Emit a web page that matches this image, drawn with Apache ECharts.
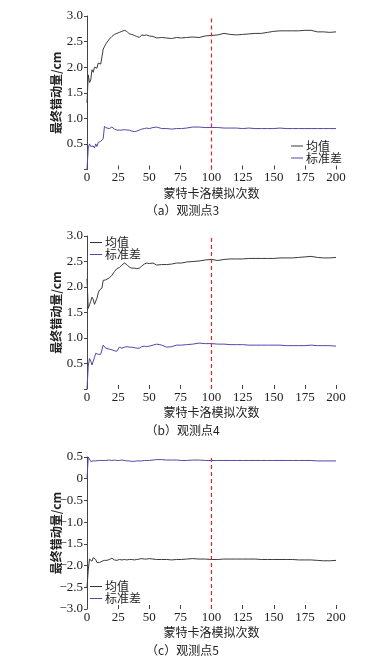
<!DOCTYPE html>
<html><head><meta charset="utf-8">
<script src="https://cdn.jsdelivr.net/npm/echarts@6/dist/echarts.min.js"></script>
<style>html,body{margin:0;padding:0;background:#fff;}#c{width:365px;height:667px;}</style>
</head><body><div id="c"></div>
<script>
// iteration numbers at which values were read
var iterations = [0,1,2,3,4,5,6,7,8,9,10,11,12,13,14,15,16,18,20,22,24,26,28,30,32,34,36,38,40,42,44,46,48,50,53,56,60,64,68,72,76,80,85,90,95,100,105,110,115,120,125,130,135,140,145,150,155,160,165,170,175,180,185,190,195,200];
var xTicks = [0,25,50,75,100,125,150,175,200];
var seriesNames = ['均值','标准差'];
var captions = ['（a）观测点3','（b）观测点4','（c）观测点5'];
var xAxisTitle = '蒙特卡洛模拟次数';
var yAxisTitle = '最终错动量/cm';
var cutLine = 100;

var meanA = [1.3,1.85,1.7,1.75,1.95,1.9,2.0,2.02,1.98,2.08,2.1,2.06,2.2,2.35,2.4,2.45,2.48,2.55,2.6,2.64,2.66,2.68,2.7,2.72,2.7,2.65,2.64,2.62,2.6,2.58,2.63,2.62,2.63,2.61,2.6,2.57,2.58,2.57,2.56,2.58,2.57,2.58,2.59,2.58,2.61,2.62,2.63,2.66,2.64,2.63,2.64,2.65,2.66,2.66,2.68,2.7,2.71,2.71,2.71,2.71,2.72,2.72,2.69,2.69,2.68,2.69];
var stdA = [0.0,0.42,0.5,0.45,0.44,0.46,0.42,0.5,0.45,0.53,0.5,0.55,0.58,0.6,0.84,0.83,0.81,0.8,0.83,0.79,0.77,0.77,0.77,0.78,0.77,0.77,0.75,0.74,0.75,0.77,0.79,0.8,0.81,0.8,0.82,0.83,0.8,0.8,0.79,0.8,0.8,0.81,0.83,0.83,0.82,0.82,0.82,0.81,0.81,0.81,0.8,0.81,0.8,0.8,0.8,0.8,0.81,0.8,0.8,0.8,0.8,0.8,0.8,0.8,0.8,0.8];
var meanB = [2.16,1.58,1.65,1.72,1.8,1.76,1.66,1.64,1.78,1.88,1.94,1.97,1.98,2.13,2.13,2.14,2.14,2.18,2.23,2.3,2.36,2.38,2.43,2.47,2.44,2.39,2.37,2.37,2.36,2.37,2.41,2.45,2.47,2.46,2.47,2.43,2.44,2.44,2.45,2.47,2.47,2.49,2.5,2.51,2.53,2.54,2.52,2.54,2.55,2.55,2.55,2.56,2.56,2.56,2.56,2.56,2.57,2.57,2.57,2.58,2.59,2.6,2.58,2.57,2.57,2.58];
var stdB = [0.0,0.45,0.6,0.55,0.47,0.5,0.62,0.7,0.67,0.68,0.7,0.68,0.68,0.86,0.84,0.8,0.79,0.78,0.77,0.75,0.74,0.82,0.8,0.82,0.83,0.82,0.82,0.81,0.8,0.8,0.83,0.84,0.83,0.84,0.86,0.88,0.86,0.82,0.83,0.86,0.86,0.87,0.88,0.9,0.89,0.89,0.88,0.88,0.87,0.87,0.87,0.86,0.86,0.86,0.86,0.86,0.86,0.85,0.85,0.85,0.85,0.86,0.85,0.85,0.85,0.84];
var meanC = [-2.5,-2.1,-1.85,-1.84,-1.9,-1.82,-1.8,-1.86,-1.93,-1.95,-1.93,-1.92,-1.9,-1.89,-1.88,-1.86,-1.88,-1.86,-1.83,-1.87,-1.88,-1.86,-1.87,-1.86,-1.87,-1.86,-1.86,-1.87,-1.86,-1.85,-1.84,-1.85,-1.85,-1.84,-1.85,-1.86,-1.86,-1.86,-1.87,-1.86,-1.86,-1.85,-1.84,-1.85,-1.85,-1.86,-1.86,-1.85,-1.85,-1.85,-1.85,-1.85,-1.85,-1.86,-1.86,-1.86,-1.86,-1.86,-1.86,-1.87,-1.87,-1.87,-1.88,-1.89,-1.89,-1.88];
var stdC = [0.0,0.5,0.46,0.4,0.39,0.41,0.43,0.41,0.4,0.42,0.41,0.42,0.41,0.42,0.43,0.42,0.41,0.43,0.42,0.43,0.42,0.42,0.43,0.42,0.41,0.41,0.4,0.4,0.41,0.41,0.41,0.42,0.42,0.42,0.43,0.44,0.44,0.43,0.43,0.43,0.42,0.42,0.43,0.43,0.42,0.42,0.42,0.42,0.42,0.42,0.42,0.42,0.42,0.42,0.42,0.42,0.42,0.42,0.42,0.42,0.42,0.42,0.41,0.41,0.41,0.41];

var yRanges = [[0,3],[0,3],[-3,0.5]];
var meanData = [meanA, meanB, meanC];
var stdData = [stdA, stdB, stdC];

var numFont = 'Liberation Serif';
var cjkFont = 'Noto Sans CJK SC';
var meanColor = '#3a3a3a';
var stdColor = '#5446a8';
var cutColor = '#ee2228';

var panels = [
  {top:16, height:153.5, legend:{left:291, top:140}},
  {top:236, height:153, legend:{left:90, top:236.5}},
  {top:457, height:152, legend:{left:90, top:580.5}}
];

function pairs(ys){ return iterations.map(function(x,i){ return [x, ys[i]]; }); }

var option = {animation:false, grid:[], xAxis:[], yAxis:[], series:[], legend:[], graphic:[]};
panels.forEach(function(p, k){
  option.grid.push({left:87, width:249, top:p.top, height:p.height});
  option.xAxis.push({
    type:'value', gridIndex:k, min:0, max:200, interval:25,
    axisLine:{show:false, onZero:false},
    axisTick:{show:true, inside:true, length:4, lineStyle:{color:'#444'}},
    splitLine:{show:false},
    axisLabel:{margin:2, fontFamily:numFont, fontSize:13, color:'#222'},
    name:xAxisTitle, nameLocation:'middle', nameGap:17.5, nameMoveOverlap:false,
    nameTextStyle:{fontFamily:cjkFont, fontSize:12, color:'#222'}
  });
  var yr = yRanges[k];
  option.yAxis.push({
    type:'value', gridIndex:k, min:yr[0], max:yr[1], interval:0.5,
    axisLine:{show:true, onZero:false, lineStyle:{color:'#444', width:1}},
    axisTick:{show:true, inside:false, length:3, lineStyle:{color:'#444'}},
    splitLine:{show:false},
    axisLabel:{margin:4, fontFamily:numFont, fontSize:13, color:'#222',
      formatter:function(v){
        if (Math.abs(v) < 1e-9) return k === 2 ? '0' : '';
        var s = v.toFixed(1);
        return s.replace('-', '\u2212');
      }},
    name:yAxisTitle, nameLocation:'middle', nameGap:25, nameMoveOverlap:false,
    nameTextStyle:{fontFamily:cjkFont, fontSize:12, color:'#222', fontWeight:'bold'}
  });
  option.series.push({
    type:'line', name:seriesNames[0], xAxisIndex:k, yAxisIndex:k,
    data:pairs(meanData[k]), showSymbol:false, symbol:'none',
    lineStyle:{color:meanColor, width:1}, itemStyle:{color:meanColor}
  });
  option.series.push({
    type:'line', name:seriesNames[1], xAxisIndex:k, yAxisIndex:k,
    data:pairs(stdData[k]), showSymbol:false, symbol:'none',
    lineStyle:{color:stdColor, width:1}, itemStyle:{color:stdColor}
  });
  option.series.push({
    type:'line', name:'cut', xAxisIndex:k, yAxisIndex:k, silent:true,
    data:[[cutLine, yr[0]],[cutLine, yr[1]]], showSymbol:false, symbol:'none',
    lineStyle:{color:cutColor, width:1.2, type:[4,3]}, itemStyle:{color:cutColor}, z:3
  });
  option.legend.push({
    orient:'vertical', left:p.legend.left, top:p.legend.top,
    data:seriesNames, icon:'rect', itemWidth:12, itemHeight:1,
    itemGap:0, padding:0,
    textStyle:{fontFamily:cjkFont, fontSize:12, color:'#222', lineHeight:12, padding:[0,0,0,-2]},
    selectedMode:false
  });
  option.graphic.push({
    type:'text', left:'center', top:p.top + p.height + 35,
    style:{text:captions[k], font:'12px "Noto Sans CJK SC"', fill:'#222'},
    x:4
  });
});

var chart = echarts.init(document.getElementById('c'), null, {renderer:'canvas'});
chart.setOption(option);
</script>
</body></html>
